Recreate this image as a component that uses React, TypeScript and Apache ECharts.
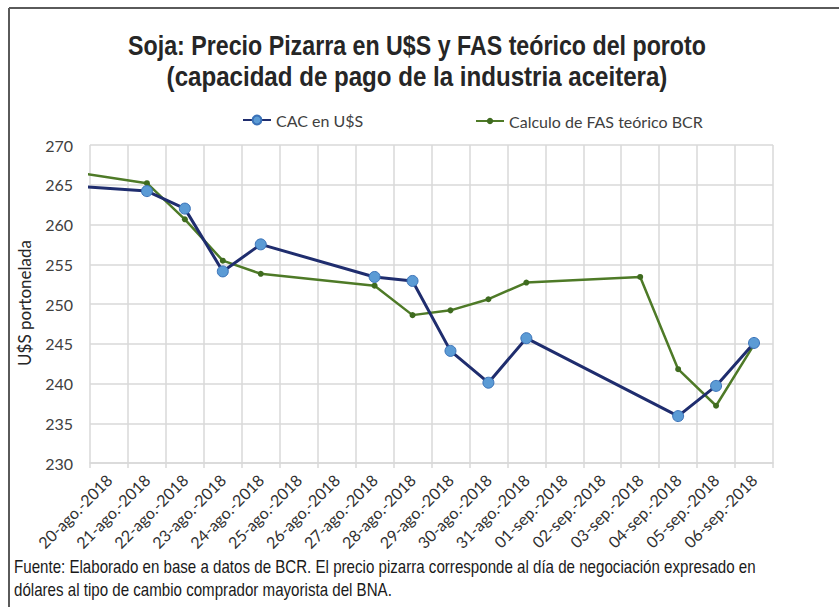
import React, { useEffect, useRef } from "react";
import * as echarts from "echarts";

const TITLE_LINE1 = "Soja: Precio Pizarra en U$S y FAS teórico del poroto";
const TITLE_LINE2 = "(capacidad de pago de la industria aceitera)";
const Y_NAME = "U$S portonelada";
const FOOTNOTE_1 =
  "Fuente: Elaborado en base a datos de BCR. El precio pizarra corresponde al día de negociación expresado en";
const FOOTNOTE_2 = "dólares al tipo de cambio comprador mayorista del BNA.";

const START_DATE = "2018-08-20";
const categories = [
  "20-ago.-2018", "21-ago.-2018", "22-ago.-2018", "23-ago.-2018", "24-ago.-2018",
  "25-ago.-2018", "26-ago.-2018", "27-ago.-2018", "28-ago.-2018", "29-ago.-2018",
  "30-ago.-2018", "31-ago.-2018", "01-sep.-2018", "02-sep.-2018", "03-sep.-2018",
  "04-sep.-2018", "05-sep.-2018", "06-sep.-2018",
];

const yMin = 230;
const yMax = 270;
const yInterval = 5;

const cacName = "CAC en U$S";
const cacDates = [
  "2018-08-17", "2018-08-21", "2018-08-22", "2018-08-23", "2018-08-24",
  "2018-08-27", "2018-08-28", "2018-08-29", "2018-08-30", "2018-08-31",
  "2018-09-04", "2018-09-05", "2018-09-06",
];
const cacValues = [265.5, 264.2, 262.0, 254.1, 257.5, 253.4, 252.9, 244.1, 240.1, 245.7, 235.9, 239.7, 245.1];

const fasName = "Calculo de FAS teórico BCR";
const fasDates = [
  "2018-08-17", "2018-08-21", "2018-08-22", "2018-08-23", "2018-08-24",
  "2018-08-27", "2018-08-28", "2018-08-29", "2018-08-30", "2018-08-31",
  "2018-09-03", "2018-09-04", "2018-09-05", "2018-09-06",
];
const fasValues = [268.1, 265.2, 260.65, 255.45, 253.8, 252.3, 248.6, 249.2, 250.6, 252.7, 253.4, 241.8, 237.2, 244.9];

const dayIndex = (d: string) =>
  Math.round((Date.parse(d + "T00:00:00Z") - Date.parse(START_DATE + "T00:00:00Z")) / 86400000);

const toPoints = (dates: string[], values: number[]) =>
  dates.map((d, i) => [dayIndex(d), values[i]]);

const GRID_COLOR = "#d9d9d9";
const TEXT_COLOR = "#404040";
const SANS = "'Liberation Sans', Arial, sans-serif";
const BODY = "Lato, 'Open Sans', sans-serif";

function measure(text: string, font: string): number {
  const c = document.createElement("canvas");
  const ctx = c.getContext("2d");
  if (!ctx) return 0;
  ctx.font = font;
  return ctx.measureText(text).width;
}

export default function App() {
  const ref = useRef<HTMLDivElement>(null);

  useEffect(() => {
    if (!ref.current) return;
    const chart = echarts.init(ref.current, null, { renderer: "svg" });

    const titleSize = 27;
    const titleFont = `bold ${titleSize}px 'Liberation Sans'`;
    const t1w = measure(TITLE_LINE1, titleFont) || 730;
    const t2w = measure(TITLE_LINE2, titleFont) || 635;
    const t1s = 578 / t1w;
    const t2s = 501 / t2w;
    const footSize = 18;
    const footFont = `${footSize}px 'Liberation Sans'`;
    const fw = measure(FOOTNOTE_1, footFont) || 885;
    const fs = 742 / fw;

    chart.setOption({
      animation: false,
      backgroundColor: "#ffffff",
      legend: [
        {
          data: [cacName],
          left: 242,
          top: 112,
          padding: 0,
          itemWidth: 28,
          itemHeight: 11,
          textStyle: { fontFamily: BODY, fontSize: 16, color: TEXT_COLOR },
        },
        {
          data: [fasName],
          left: 475,
          top: 113,
          padding: 0,
          itemWidth: 28,
          itemHeight: 8,
          textStyle: { fontFamily: BODY, fontSize: 16, color: TEXT_COLOR },
        },
      ],
      grid: { left: 90, right: 66, top: 145, bottom: 144, containLabel: false },
      xAxis: [
        {
          type: "category",
          data: categories,
          boundaryGap: true,
          axisLine: { show: true, lineStyle: { color: GRID_COLOR, width: 1.5 } },
          axisTick: { show: true, length: 5, lineStyle: { color: GRID_COLOR, width: 1.5 } },
          splitLine: { show: true, lineStyle: { color: GRID_COLOR, width: 1.5 } },
          axisLabel: {
            rotate: 45,
            margin: 14,
            interval: 0,
            fontFamily: BODY,
            fontSize: 16,
            color: "#303030",
          },
        },
        {
          type: "value",
          min: -0.5,
          max: categories.length - 0.5,
          show: false,
          splitLine: { show: false },
        },
      ],
      yAxis: {
        type: "value",
        min: yMin,
        max: yMax,
        interval: yInterval,
        axisLine: { show: false },
        axisTick: { show: false },
        splitLine: { show: true, lineStyle: { color: GRID_COLOR, width: 1.5 } },
        axisLabel: { margin: 17, fontFamily: BODY, fontSize: 16, color: TEXT_COLOR },
      },
      series: [
        {
          name: cacName,
          type: "line",
          xAxisIndex: 1,
          data: toPoints(cacDates, cacValues),
          clip: true,
          symbol: "circle",
          symbolSize: 11,
          lineStyle: { color: "#1f2d6e", width: 3 },
          itemStyle: { color: "#5b9bd5", borderColor: "#3a72b8", borderWidth: 1 },
          z: 3,
        },
        {
          name: fasName,
          type: "line",
          xAxisIndex: 1,
          data: toPoints(fasDates, fasValues),
          clip: true,
          symbol: "circle",
          symbolSize: 6,
          lineStyle: { color: "#4e7a27", width: 2.5 },
          itemStyle: { color: "#3f6b1f", borderWidth: 0 },
          z: 2,
        },
      ],
      graphic: [
        {
          type: "line",
          shape: { x1: 9, y1: 8, x2: 839, y2: 8 },
          style: { stroke: "#5a5a5a", lineWidth: 2 },
          silent: true,
        },
        {
          type: "line",
          shape: { x1: 9, y1: 8, x2: 9, y2: 607 },
          style: { stroke: "#5a5a5a", lineWidth: 2 },
          silent: true,
        },
        {
          type: "text",
          x: 417,
          y: 45,
          scaleX: t1s,
          style: {
            text: TITLE_LINE1,
            fontFamily: SANS,
            fontWeight: "bold",
            fontSize: titleSize,
            fill: "#262626",
            textAlign: "center",
            textVerticalAlign: "middle",
          },
        },
        {
          type: "text",
          x: 417,
          y: 77,
          scaleX: t2s,
          style: {
            text: TITLE_LINE2,
            fontFamily: SANS,
            fontWeight: "bold",
            fontSize: titleSize,
            fill: "#262626",
            textAlign: "center",
            textVerticalAlign: "middle",
          },
        },
        {
          type: "text",
          x: 24,
          y: 303,
          rotation: Math.PI / 2,
          style: {
            text: Y_NAME,
            fontFamily: BODY,
            fontSize: 17,
            fill: "#262626",
            textAlign: "center",
            textVerticalAlign: "middle",
          },
        },
        {
          type: "text",
          x: 14,
          y: 567,
          scaleX: fs,
          style: {
            text: FOOTNOTE_1,
            fontFamily: SANS,
            fontSize: footSize,
            fill: "#1a1a1a",
            textVerticalAlign: "middle",
          },
        },
        {
          type: "text",
          x: 14,
          y: 590,
          scaleX: fs,
          style: {
            text: FOOTNOTE_2,
            fontFamily: SANS,
            fontSize: footSize,
            fill: "#1a1a1a",
            textVerticalAlign: "middle",
          },
        },
      ],
    });
    return () => chart.dispose();
  }, []);

  return (
    <div
      ref={ref}
      style={{ position: "fixed", left: 0, top: 0, width: 839, height: 607 }}
    />
  );
}
